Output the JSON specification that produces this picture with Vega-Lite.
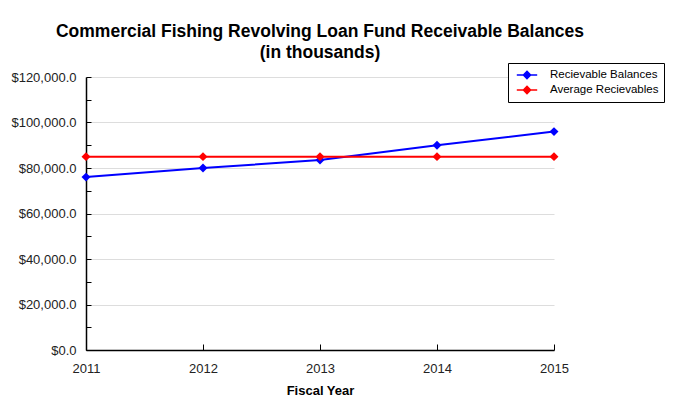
{
  "$schema": "https://vega.github.io/schema/vega-lite/v6.json",
  "autosize": "none",
  "width": 468,
  "height": 273,
  "padding": {"left": 86, "top": 77, "right": 123, "bottom": 50},
  "background": "white",
  "config": {
    "font": "Liberation Sans",
    "view": {"stroke": null}
  },
  "title": {
    "text": ["Commercial Fishing Revolving Loan Fund Receivable Balances", "(in thousands)"],
    "fontSize": 17.5,
    "fontWeight": "bold",
    "color": "#000",
    "anchor": "middle",
    "lineHeight": 21,
    "offset": 1
  },
  "data": {
    "values": [
      {"year": 2011, "series": "Recievable Balances", "value": 76000},
      {"year": 2012, "series": "Recievable Balances", "value": 80000},
      {"year": 2013, "series": "Recievable Balances", "value": 83500},
      {"year": 2014, "series": "Recievable Balances", "value": 90000},
      {"year": 2015, "series": "Recievable Balances", "value": 96000},
      {"year": 2011, "series": "Average Recievables", "value": 85000},
      {"year": 2012, "series": "Average Recievables", "value": 85000},
      {"year": 2013, "series": "Average Recievables", "value": 85000},
      {"year": 2014, "series": "Average Recievables", "value": 85000},
      {"year": 2015, "series": "Average Recievables", "value": 85000}
    ]
  },
  "encoding": {
    "x": {
      "field": "year",
      "type": "quantitative",
      "scale": {"domain": [2011, 2015], "nice": false, "zero": false},
      "axis": {
        "values": [2011, 2012, 2013, 2014, 2015],
        "format": "d",
        "title": "Fiscal Year",
        "titleFontSize": 13,
        "titleFontWeight": "bold",
        "titleColor": "#000",
        "titlePadding": 9,
        "labelFontSize": 13,
        "labelColor": "#222",
        "labelPadding": 18,
        "labelFlush": false,
        "domainColor": "#000",
        "domainWidth": 1.5,
        "tickColor": "#000",
        "tickSize": -6,
        "grid": false
      }
    },
    "y": {
      "field": "value",
      "type": "quantitative",
      "scale": {"domain": [0, 120000], "nice": false},
      "axis": {
        "values": [0, 10000, 20000, 30000, 40000, 50000, 60000, 70000, 80000, 90000, 100000, 110000, 120000],
        "title": null,
        "labelExpr": "datum.value % 20000 === 0 ? format(datum.value, '$,.1f') : ''",
        "labelFontSize": 13,
        "labelColor": "#222",
        "labelPadding": 15,
        "domainColor": "#000",
        "domainWidth": 1.5,
        "tickColor": "#000",
        "tickSize": -5,
        "grid": true,
        "gridColor": "#dddddd",
        "gridOpacity": {"condition": {"test": "datum.value % 20000 === 0 && datum.value > 0", "value": 1}, "value": 0}
      }
    },
    "color": {
      "field": "series",
      "type": "nominal",
      "scale": {"domain": ["Recievable Balances", "Average Recievables"], "range": ["#0000ff", "#ff0000"]},
      "legend": {
        "title": null,
        "orient": "none",
        "legendX": 422,
        "legendY": -14,
        "strokeColor": "#000",
        "fillColor": "white",
        "padding": 5,
        "labelFontSize": 11.5,
        "labelColor": "#000",
        "symbolType": "M-1.7,0H1.7M-0.6,0L0,-0.6L0.6,0L0,0.6Z",
        "symbolSize": 144,
        "symbolStrokeWidth": 1.5,
        "symbolOffset": 7,
        "rowPadding": 1,
        "labelOffset": 16
      }
    }
  },
  "layer": [
    {"mark": {"type": "line", "strokeWidth": 2}},
    {"mark": {"type": "point", "shape": "diamond", "filled": true, "size": 80, "opacity": 1}}
  ]
}
